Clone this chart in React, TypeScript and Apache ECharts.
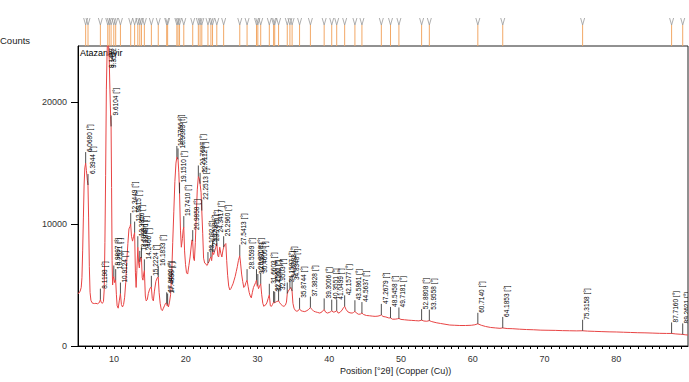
import React, { useEffect, useRef } from "react";
import * as echarts from "echarts";

// Diffractogram trace: [position °2θ, counts]
const curvePoints: [number, number][] = [
  [5.0, 4300], [5.15, 4350], [5.3, 4500], [5.45, 4800], [5.55, 5600], [5.65, 7800], [5.75, 10500], [5.85, 13200],
  [5.95, 14600], [6.07, 15000], [6.17, 14400], [6.3, 13600], [6.39, 13200], [6.48, 10500], [6.58, 6500], [6.68, 4400],
  [6.8, 3750], [6.95, 3550], [7.1, 3500], [7.3, 3480], [7.5, 3500], [7.7, 3460], [7.9, 3520], [8.0, 3600], [8.12, 3800],
  [8.25, 3560], [8.4, 3500], [8.55, 3650], [8.65, 4600], [8.75, 8500], [8.85, 14000], [8.95, 21000], [9.05, 24000],
  [9.15, 25500], [9.25, 24800], [9.35, 23500], [9.45, 21000], [9.55, 18800], [9.61, 18000], [9.68, 13000], [9.75, 7000],
  [9.82, 5000], [9.9, 5500], [9.99, 5700], [10.1, 5200], [10.25, 5400], [10.35, 4200], [10.45, 3300], [10.6, 3100],
  [10.75, 3700], [10.91, 4300], [11.05, 3400], [11.2, 3200], [11.35, 3400], [11.5, 4000], [11.65, 5200], [11.8, 7000],
  [11.95, 8400], [12.1, 9600], [12.25, 9800], [12.34, 10000], [12.45, 9000], [12.6, 8600], [12.75, 9000], [12.89, 9300],
  [13.0, 6000], [13.1, 4800], [13.2, 6200], [13.34, 8100], [13.45, 6800], [13.55, 6400], [13.61, 6900], [13.72, 7300],
  [13.84, 7200], [13.95, 5600], [14.05, 5400], [14.15, 5900], [14.25, 6200], [14.38, 4100], [14.5, 3700], [14.65, 3800],
  [14.8, 4300], [14.95, 4600], [15.1, 4800], [15.22, 4850], [15.35, 3900], [15.5, 3700], [15.65, 4500], [15.85, 5300],
  [16.05, 5600], [16.18, 5650], [16.3, 4400], [16.45, 3500], [16.6, 3000], [16.75, 2900], [16.9, 3100], [17.05, 3300],
  [17.2, 3500], [17.36, 3500], [17.42, 3300], [17.49, 3400], [17.6, 3200], [17.75, 3600], [17.9, 4200], [18.05, 5800],
  [18.2, 8500], [18.35, 11000], [18.5, 13500], [18.65, 15000], [18.78, 15500], [18.94, 15300], [19.05, 14200],
  [19.15, 12500], [19.28, 9500], [19.4, 8100], [19.55, 8800], [19.65, 9500], [19.74, 9750], [19.85, 7800], [19.98, 6700],
  [20.12, 6000], [20.28, 5900], [20.45, 6600], [20.62, 7300], [20.78, 8200], [20.88, 8700], [20.98, 8600], [21.1, 7200],
  [21.22, 7000], [21.35, 8500], [21.5, 11000], [21.62, 12800], [21.77, 13900], [21.9, 13700], [22.01, 13300],
  [22.15, 12600], [22.25, 11100], [22.38, 9200], [22.5, 7200], [22.65, 6800], [22.8, 6750], [22.95, 6600], [23.05, 6650],
  [23.11, 6800], [23.25, 6900], [23.4, 7200], [23.52, 7300], [23.62, 7000], [23.75, 7700], [23.9, 7500], [24.05, 7800],
  [24.2, 8100], [24.34, 8400], [24.48, 7400], [24.6, 7300], [24.75, 8100], [24.9, 7600], [25.05, 7300], [25.18, 7800],
  [25.3, 8100], [25.45, 8300], [25.6, 8400], [25.72, 7000], [25.85, 5800], [26.0, 4900], [26.15, 4600], [26.3, 4700],
  [26.45, 4900], [26.6, 5100], [26.75, 5400], [26.9, 5700], [27.05, 6100], [27.2, 6500], [27.35, 7000], [27.54, 7400],
  [27.65, 6800], [27.8, 5900], [27.95, 5300], [28.1, 4800], [28.25, 4900], [28.4, 5200], [28.56, 5400], [28.7, 4900],
  [28.85, 4400], [29.0, 4100], [29.15, 3950], [29.3, 4400], [29.45, 4800], [29.6, 5000], [29.75, 5200], [29.87, 5400],
  [29.97, 4900], [30.06, 5000], [30.15, 4700], [30.3, 4900], [30.46, 5100], [30.6, 4200], [30.75, 3500], [30.9, 3250],
  [31.05, 3350], [31.2, 3400], [31.35, 3600], [31.5, 3900], [31.66, 4200], [31.8, 3300], [31.95, 3250], [32.1, 3400],
  [32.26, 3600], [32.4, 3550], [32.55, 3600], [32.7, 3650], [32.95, 3700], [33.1, 3550], [33.3, 3400], [33.5, 3300],
  [33.7, 3250], [33.9, 3350], [34.05, 3600], [34.16, 4300], [34.3, 4500], [34.53, 4700], [34.65, 4800], [34.83, 4500],
  [34.95, 3500], [35.1, 3100], [35.3, 2900], [35.5, 2850], [35.7, 2900], [35.87, 3050], [36.05, 2900], [36.3, 2850],
  [36.6, 2820], [36.9, 2900], [37.15, 3000], [37.38, 3150], [37.6, 3000], [37.85, 2850], [38.1, 2800], [38.4, 2750],
  [38.7, 2700], [39.0, 2800], [39.3, 3000], [39.5, 2780], [39.75, 2700], [40.0, 2750], [40.2, 2800], [40.36, 2900],
  [40.55, 2780], [40.8, 2800], [41.05, 2900], [41.25, 2700], [41.5, 2750], [41.8, 2950], [42.0, 3150], [42.16, 3250],
  [42.35, 3000], [42.6, 2800], [42.9, 2720], [43.2, 2700], [43.4, 2750], [43.59, 2850], [43.8, 2700], [44.1, 2600],
  [44.35, 2620], [44.56, 2700], [44.8, 2580], [45.2, 2500], [45.6, 2480], [46.0, 2450], [46.4, 2430], [46.8, 2450],
  [47.1, 2500], [47.27, 2550], [47.5, 2420], [47.9, 2380], [48.3, 2300], [48.55, 2300], [48.8, 2200], [49.2, 2200],
  [49.5, 2230], [49.72, 2260], [50.0, 2180], [50.5, 2150], [51.0, 2120], [51.5, 2100], [52.0, 2080], [52.5, 2060],
  [52.88, 2120], [53.2, 2050], [53.6, 2030], [53.96, 2080], [54.3, 2000], [55.0, 1900], [55.5, 1850], [56.0, 1800],
  [56.8, 1720], [57.5, 1700], [58.2, 1680], [59.0, 1680], [59.8, 1700], [60.3, 1740], [60.71, 1820], [61.2, 1700],
  [61.8, 1600], [62.5, 1520], [63.2, 1480], [63.8, 1450], [64.19, 1480], [64.8, 1430], [65.5, 1420], [66.5, 1380],
  [67.5, 1350], [68.5, 1330], [69.5, 1300], [70.5, 1290], [71.5, 1280], [72.5, 1260], [73.5, 1250], [74.5, 1240],
  [75.32, 1250], [76.0, 1220], [77.0, 1200], [78.0, 1180], [79.0, 1160], [80.0, 1150], [81.0, 1130], [82.0, 1110],
  [83.0, 1090], [84.0, 1080], [85.0, 1060], [86.0, 1040], [87.0, 1030], [87.72, 1030], [88.3, 990], [89.0, 960],
  [89.26, 950], [89.6, 920], [90.0, 900],
];

// Peak list: positions (as printed) and counts at each peak
const peakLabels: string[] = [
  "6.0680", "6.3944", "8.1198", "9.1457", "9.3512", "9.6104", "9.9897", "10.2521", "10.9124", "12.3449", "12.8915",
  "13.3356", "13.6099", "13.8400", "14.2466", "15.2224", "16.1833", "17.3600", "17.4898", "18.7766", "18.9383",
  "19.1510", "19.7410", "20.9858", "21.7687", "22.0112", "22.2513", "23.1092", "23.5218", "23.7470", "24.3417",
  "25.2960", "27.5413", "28.5599", "29.8708", "30.0591", "30.4600", "31.6603", "32.2562", "32.4100", "32.9503",
  "34.1587", "34.5283", "34.8348", "35.8744", "37.3828", "39.3006", "40.3551", "41.0499", "42.1577", "43.5861",
  "44.5637", "47.2679", "48.5458", "49.7181", "52.8808", "53.9558", "60.7140", "64.1853", "75.3158", "87.7160",
  "89.2621",
];
const peakHeights: number[] = [
  15000, 13200, 3800, 25500, 23500, 18000, 5700, 5400, 4300, 10000, 9300,
  8100, 6900, 7200, 6200, 4850, 5650, 3500, 3400, 15500, 15300,
  12500, 9750, 8600, 13900, 13300, 11100, 6800, 7300, 7700, 8400,
  8100, 7400, 5400, 5400, 5000, 5100, 4200, 3600, 3550, 3700,
  4300, 4700, 4500, 3050, 3150, 3000, 2900, 2900, 3250, 2850,
  2700, 2550, 2300, 2260, 2120, 2080, 1820, 1480, 1250, 1030,
  950,
];

const xTickValues: number[] = [6, 7, 8, 9, 10, 11, 12, 13, 14, 15, 16, 17, 18, 19, 20, 21, 22, 23, 24, 25, 26, 27, 28, 29,
  30, 31, 32, 33, 34, 35, 36, 37, 38, 39, 40, 41, 42, 43, 44, 45, 46, 47, 48, 49, 50, 51, 52, 53, 54, 55, 56, 57, 58, 59,
  60, 61, 62, 63, 64, 65, 66, 67, 68, 69, 70, 71, 72, 73, 74, 75, 76, 77, 78, 79, 80, 81, 82, 83, 84, 85, 86, 87, 88, 89];
const xLabelValues: number[] = [10, 20, 30, 40, 50, 60, 70, 80];
const yTickValues: number[] = [0, 10000, 20000];

const FONT = "'Liberation Sans', Arial, sans-serif";

export default function App() {
  const ref = useRef<HTMLDivElement>(null);
  useEffect(() => {
    document.body.style.margin = "0";
    if (!ref.current) return;
    const chart = echarts.init(ref.current, undefined, { renderer: "svg" });
    const peakData = peakLabels.map((s, i) => [Number(s), peakHeights[i]]);
    chart.setOption({
      animation: false,
      textStyle: { fontFamily: FONT },
      grid: { left: 78, right: 1, top: 46, bottom: 36, show: true, borderColor: "#222", borderWidth: 1 },
      xAxis: {
        type: "value",
        min: 5,
        max: 90,
        axisLine: { show: true, lineStyle: { color: "#000", width: 1 } },
        axisTick: { show: true, inside: false, length: 3, customValues: xTickValues, lineStyle: { color: "#000" } },
        axisLabel: { customValues: xLabelValues, color: "#333", fontSize: 9, margin: 8, fontFamily: FONT },
        splitLine: { show: false },
      },
      yAxis: {
        type: "value",
        min: 0,
        max: 24600,
        axisLine: { show: true, lineStyle: { color: "#000", width: 1 } },
        axisTick: { show: true, inside: false, length: 7, customValues: yTickValues, lineStyle: { color: "#000" } },
        axisLabel: {
          customValues: yTickValues,
          color: "#333",
          fontSize: 9,
          margin: 11,
          fontFamily: FONT,
          formatter: (v: number) => String(v),
        },
        splitLine: { show: false },
      },
      graphic: [
        { type: "text", left: 0, top: 35, style: { text: "Counts", fontSize: 9.5, fill: "#222", fontFamily: FONT } },
        { type: "text", left: 80, top: 48, style: { text: "Atazanavir", fontSize: 9, fill: "#000", fontFamily: FONT } },
        {
          type: "text", left: 340, top: 366,
          style: { text: "Position [°2θ] (Copper (Cu))", fontSize: 9, fill: "#222", fontFamily: FONT },
        },
      ],
      series: [
        {
          type: "line",
          data: curvePoints,
          showSymbol: false,
          clip: true,
          lineStyle: { color: "#e84444", width: 1 },
          z: 2,
        },
        {
          type: "custom",
          data: peakData,
          clip: true,
          z: 3,
          renderItem: (params: any, api: any) => {
            const i = params.dataIndex;
            const p = api.coord([api.value(0), api.value(1)]);
            const cs = params.coordSys;
            const lineTop = Math.max(p[1] - 11, cs.y + 22);
            const children: any[] = [];
            if (lineTop < p[1]) {
              children.push({
                type: "line",
                shape: { x1: p[0], y1: p[1], x2: p[0], y2: lineTop },
                style: { stroke: "#222", lineWidth: 0.8 },
              });
            }
            children.push({
              type: "text",
              x: p[0] + 0.5,
              y: lineTop,
              rotation: Math.PI / 2,
              style: {
                text: peakLabels[i] + " [°]",
                fontSize: 6.5,
                fontFamily: FONT,
                fill: "#000",
                align: "left",
                verticalAlign: "top",
              },
            });
            return { type: "group", children };
          },
        },
        {
          type: "custom",
          data: peakData,
          clip: false,
          z: 4,
          renderItem: (params: any, api: any) => {
            const x = api.coord([api.value(0), 0])[0];
            const t = params.coordSys.y;
            return {
              type: "group",
              children: [
                { type: "line", shape: { x1: x, y1: t - 21, x2: x, y2: t }, style: { stroke: "#f2a866", lineWidth: 1 } },
                {
                  type: "polyline",
                  shape: { points: [[x - 2, t - 28], [x, t - 21], [x + 2, t - 28]] },
                  style: { stroke: "#999", fill: null, lineWidth: 0.8 },
                },
              ],
            };
          },
        },
      ],
    });
    return () => chart.dispose();
  }, []);
  return <div ref={ref} style={{ width: 689, height: 382 }} />;
}
